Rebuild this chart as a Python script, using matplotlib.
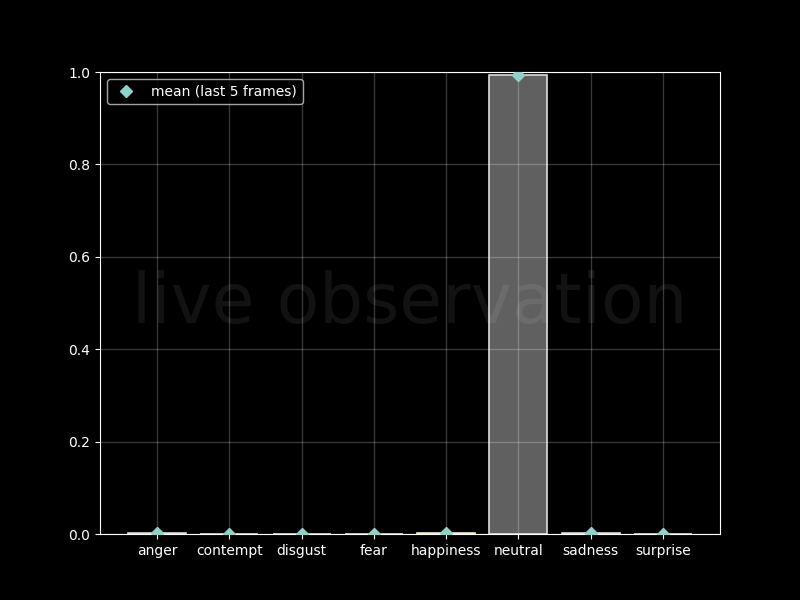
import matplotlib

matplotlib.use("Agg")
import matplotlib.pyplot as plt
import numpy as np

emotions = ["anger", "contempt", "disgust", "fear", "happiness", "neutral", "sadness", "surprise"]
mean_probs = [0.002, 0.001, 0.001, 0.001, 0.003, 0.993, 0.002, 0.001]
edge_colors = ["#dddddd", "#dddddd", "#dddddd", "#dddddd", "#f0ecd0", "#dddddd", "#dddddd", "#dddddd"]

plt.style.use("dark_background")
fig, ax = plt.subplots(figsize=(8, 6), dpi=100)

x = np.arange(len(emotions))
ax.bar(x, mean_probs, width=0.8, color="#606060", edgecolor=edge_colors, linewidth=1.2, zorder=1)
ax.plot(x, mean_probs, "D", color="#8dd3c7", markersize=6, linestyle="none",
        label="mean (last 5 frames)", zorder=5)

# faint watermark, drawn over the bars
ax.text(0.5, 0.5, "live observation", transform=ax.transAxes, ha="center", va="center",
        fontsize=50, color="white", alpha=0.075, zorder=3)

ax.set_xticks(x)
ax.set_xticklabels(emotions)
ax.set_ylim(0, 1)
ax.set_axisbelow(False)
ax.grid(True, color="white", alpha=0.22, linewidth=1.0)
ax.legend(loc="upper left")

fig.savefig("out.png", dpi=100)
